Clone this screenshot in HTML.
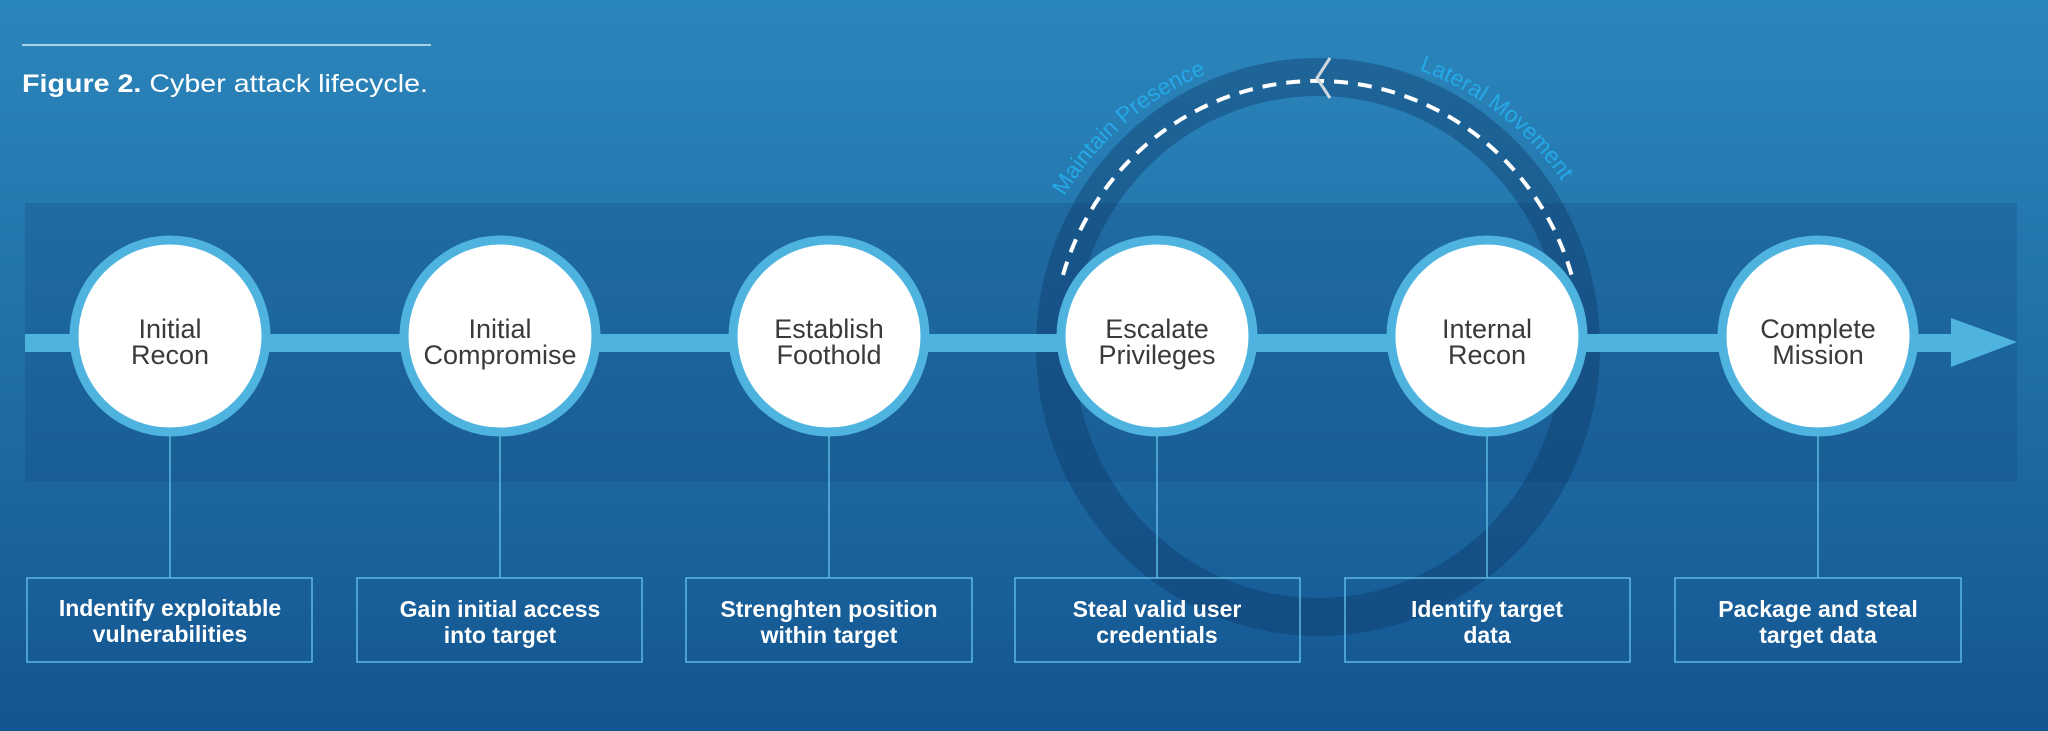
<!DOCTYPE html>
<html><head><meta charset="utf-8"><style>
html,body{margin:0;padding:0;width:2048px;height:731px;overflow:hidden}
svg{display:block}
text{font-family:"Liberation Sans",sans-serif}
</style></head><body>
<svg width="2048" height="731" viewBox="0 0 2048 731" xmlns="http://www.w3.org/2000/svg">
<defs>
<linearGradient id="bg" x1="0" y1="0" x2="0" y2="1">
<stop offset="0" stop-color="#2b86bc"/>
<stop offset="0.5" stop-color="#206fa6"/>
<stop offset="1" stop-color="#135591"/>
</linearGradient>
<path id="arc" d="M 1023 347 A 295 295 0 0 1 1613 347"/>
</defs>
<rect width="2048" height="731" fill="url(#bg)"/>
<line x1="22" y1="45" x2="431" y2="45" stroke="#d8ecf7" stroke-width="1.5"/>
<text x="22" y="92" font-size="25" fill="#fff" textLength="406" lengthAdjust="spacingAndGlyphs"><tspan font-weight="bold">Figure 2.</tspan> Cyber attack lifecycle.</text>
<rect x="25" y="203" width="1992" height="279" fill="#0d3c78" fill-opacity="0.22"/>
<ellipse cx="1318" cy="347" rx="263" ry="270" fill="none" stroke="#0e3565" stroke-opacity="0.38" stroke-width="38"/>
<path d="M 1063 275 A 265 270 0 0 1 1573 280" fill="none" stroke="#fff" stroke-width="4" stroke-dasharray="14 10"/>
<polyline points="1330,58 1317,78 1330,98" fill="none" stroke="#d0d8e0" stroke-width="3"/>
<text font-size="23" fill="#25a9e6"><textPath href="#arc" startOffset="158">Maintain Presence</textPath></text>
<text font-size="23" fill="#25a9e6"><textPath href="#arc" startOffset="566">Lateral Movement</textPath></text>
<rect x="25" y="334" width="1930" height="18" fill="#4fb3e0"/>
<polygon points="1951,318 2017,342 1951,367" fill="#4fb3e0"/>
<g stroke="#5cb8e2" stroke-width="1.5" fill="none">
<line x1="170" y1="436" x2="170" y2="578"/>
<line x1="500" y1="436" x2="500" y2="578"/>
<line x1="829" y1="436" x2="829" y2="578"/>
<line x1="1157" y1="436" x2="1157" y2="578"/>
<line x1="1487" y1="436" x2="1487" y2="578"/>
<line x1="1818" y1="436" x2="1818" y2="578"/>
<rect x="27" y="578" width="285" height="84"/>
<rect x="357" y="578" width="285" height="84"/>
<rect x="686" y="578" width="286" height="84"/>
<rect x="1015" y="578" width="285" height="84"/>
<rect x="1345" y="578" width="285" height="84"/>
<rect x="1675" y="578" width="286" height="84"/>
</g>
<g fill="#fff" stroke="#4fb3e0" stroke-width="9">
<circle cx="170" cy="336" r="96"/>
<circle cx="500" cy="336" r="96"/>
<circle cx="829" cy="336" r="96"/>
<circle cx="1157" cy="336" r="96"/>
<circle cx="1487" cy="336" r="96"/>
<circle cx="1818" cy="336" r="96"/>
</g>
<g font-size="27" fill="#3a3a3a" text-anchor="middle">
<text x="170" y="338">Initial</text><text x="170" y="364">Recon</text>
<text x="500" y="338">Initial</text><text x="500" y="364">Compromise</text>
<text x="829" y="338">Establish</text><text x="829" y="364">Foothold</text>
<text x="1157" y="338">Escalate</text><text x="1157" y="364">Privileges</text>
<text x="1487" y="338">Internal</text><text x="1487" y="364">Recon</text>
<text x="1818" y="338">Complete</text><text x="1818" y="364">Mission</text>
</g>
<g font-size="23" fill="#fff" text-anchor="middle" font-weight="bold">
<text x="170" y="616">Indentify exploitable</text><text x="170" y="642">vulnerabilities</text>
<text x="500" y="617">Gain initial access</text><text x="500" y="643">into target</text>
<text x="829" y="617">Strenghten position</text><text x="829" y="643">within target</text>
<text x="1157" y="617">Steal valid user</text><text x="1157" y="643">credentials</text>
<text x="1487" y="617">Identify target</text><text x="1487" y="643">data</text>
<text x="1818" y="617">Package and steal</text><text x="1818" y="643">target data</text>
</g>
</svg>
</body></html>
